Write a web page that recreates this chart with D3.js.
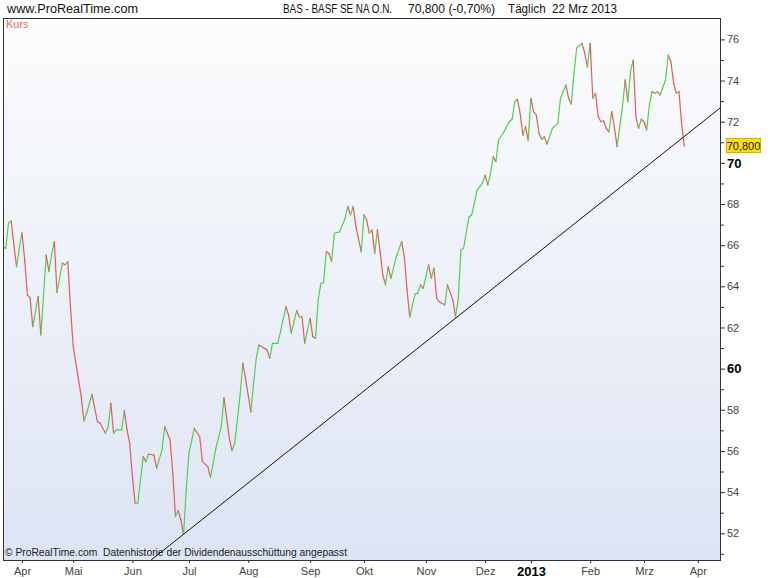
<!DOCTYPE html>
<html>
<head>
<meta charset="utf-8">
<script src="https://cdn.jsdelivr.net/npm/d3@7"></script>
<style>
  body { margin: 0; background: #fff; }
  svg { display: block; font-family: "Liberation Sans", Arial, sans-serif; }
  .axis path.domain { display: none; }
  .axis line { stroke: #333; }
  .axis text { fill: #444; font-size: 11px; }
</style>
</head>
<body>
<svg width="770" height="578"></svg>
<script>
// trading calendar (Xetra): first session and exchange holidays
var firstSession = "2012-03-22",
    lastCalendarDay = "2013-04-30";
var holidays = ["2012-04-06", "2012-04-09", "2012-05-01", "2012-12-24", "2012-12-25",
                "2012-12-26", "2012-12-31", "2013-01-01", "2013-03-29", "2013-04-01"];
var monthNames = ["Jan", "Feb", "Mrz", "Apr", "Mai", "Jun", "Jul", "Aug", "Sep", "Okt", "Nov", "Dez"];

// closing prices: session number (0 = 22 Mar 2012) and price
var session = [0, 1, 2, 3, 4, 5, 6, 7, 8, 9, 10, 11, 13, 14, 16, 17, 18, 19, 20, 22,
               23, 24, 25, 26, 28, 29, 30, 31, 33, 35, 36, 38, 39, 40, 41, 42, 44, 45, 46, 47,
               48, 49, 50, 52, 53, 54, 56, 57, 59, 60, 62, 63, 64, 65, 66, 67, 68, 69, 71, 73,
               74, 76, 77, 79, 81, 82, 84, 85, 86, 88, 89, 90, 92, 93, 94, 95, 97, 98, 99, 100,
               102, 103, 105, 106, 107, 109, 110, 111, 112, 114, 115, 116, 117, 118, 119, 120, 121, 122, 123, 125,
               127, 128, 129, 130, 131, 133, 134, 135, 136, 137, 138, 139, 140, 141, 142, 143, 144, 146, 148, 149,
               150, 151, 152, 153, 154, 155, 156, 158, 159, 160, 161, 162, 164, 165, 167, 168, 169, 170, 171, 173,
               174, 175, 176, 178, 179, 180, 181, 182, 183, 184, 186, 188, 189, 190, 191, 192, 193, 194, 195, 196,
               197, 198, 199, 200, 201, 202, 204, 206, 207, 209, 210, 211, 212, 213, 215, 216, 217, 218, 219, 220,
               221, 222, 223, 224, 225, 226, 227, 228, 230, 231, 232, 233, 234, 235, 236, 237, 238, 239, 240, 241,
               242, 243, 244, 246, 247, 248, 249, 250, 251, 252, 253];
var kurs = [65.90, 65.85, 67.08, 67.17, 66.00, 64.95, 65.86, 66.60, 65.28, 63.58, 63.45, 62.04, 63.50, 61.64, 65.52, 64.71, 65.56, 66.17, 63.70, 65.13,
            65.04, 65.20, 63.00, 61.10, 59.45, 58.64, 57.47, 57.83, 58.75, 57.42, 57.35, 56.86, 57.18, 58.32, 56.86, 57.02, 57.02, 57.96, 57.02, 56.37,
            54.75, 53.46, 53.46, 55.72, 55.48, 55.85, 55.80, 55.16, 56.05, 57.18, 56.53, 54.92, 52.81, 53.10, 52.65, 51.95, 54.10, 55.89, 57.10, 56.69,
            55.48, 55.24, 54.72, 56.13, 57.18, 58.59, 56.62, 56.01, 56.37, 58.72, 60.26, 59.53, 57.90, 59.29, 60.50, 61.15, 60.99, 60.91, 60.50, 61.23,
            61.23, 61.80, 63.01, 62.61, 61.72, 62.82, 62.52, 62.52, 61.23, 62.45, 61.55, 61.48, 63.34, 64.15, 64.18, 65.68, 65.60, 65.20, 66.58, 66.65,
            67.31, 67.87, 67.47, 67.87, 66.90, 65.68, 67.47, 67.22, 66.58, 66.74, 65.60, 66.74, 65.68, 64.55, 64.07, 64.95, 64.39, 65.44, 66.17, 65.44,
            63.82, 62.52, 63.09, 63.63, 63.66, 64.07, 63.90, 65.04, 64.39, 64.88, 63.42, 63.25, 63.09, 64.07, 63.34, 62.52, 63.34, 65.77, 65.85, 67.38,
            67.47, 68.03, 68.68, 69.01, 69.41, 68.92, 69.49, 70.30, 70.06, 71.11, 71.51, 72.00, 72.12, 72.97, 73.09, 72.41, 71.35, 71.76, 71.11, 73.14,
            72.49, 72.33, 71.44, 71.14, 71.27, 70.92, 71.68, 71.92, 73.14, 73.78, 73.14, 72.86, 74.35, 75.57, 75.81, 75.32, 74.64, 75.81, 73.14, 73.38,
            72.24, 72.00, 72.05, 71.68, 71.51, 72.49, 71.76, 70.79, 72.73, 74.03, 72.97, 74.43, 75.00, 72.24, 71.68, 72.12, 72.00, 71.60, 72.81, 73.46,
            73.38, 73.46, 73.30, 74.03, 75.24, 74.92, 73.87, 73.38, 73.46, 71.84, 70.80];

// support line through the July and November lows
var trendSession = [67, 168],
    trendKurs = [51.95, 62.45];

var priceTicks = d3.range(52, 77, 2),
    minorTicks = d3.range(51, 77, 2),
    strongTicks = [60, 70];

var title = "BAS - BASF SE NA O.N.",
    quote = "70,800 (-0,70%)",
    period = "Täglich  22 Mrz 2013",
    lastLabel = "70,800";

// ---- build the session calendar
var parse = d3.timeParse("%Y-%m-%d"), fmt = d3.timeFormat("%Y-%m-%d");
var holidaySet = new Set(holidays);
var sessions = d3.timeDay.range(parse(firstSession), parse(lastCalendarDay))
    .filter(function(d) { return d.getDay() != 0 && d.getDay() != 6 && !holidaySet.has(fmt(d)); });

var monthStarts = [];
sessions.forEach(function(d, i) {
    if (i > 0 && d.getMonth() != sessions[i - 1].getMonth()) monthStarts.push({ i: i, date: d });
});

var data = session.map(function(s, i) { return { s: s, v: kurs[i], date: sessions[s] }; });

var svg = d3.select("svg"),
    pLeft = 3, pRight = 721, pTop = 18, pBottom = 560;

var x = d3.scaleLinear().domain([0, 266.6]).range([3.15, pRight]);
var y = d3.scaleLinear().domain([50.70, 77.04]).range([pBottom, pTop]);

// background gradient
var defs = svg.append("defs");
var grad = defs.append("linearGradient").attr("id", "bg").attr("x1", 0).attr("y1", 0).attr("x2", 0).attr("y2", 1);
grad.append("stop").attr("offset", "0%").attr("stop-color", "#fbfcfd");
grad.append("stop").attr("offset", "35%").attr("stop-color", "#f1f4f9");
grad.append("stop").attr("offset", "100%").attr("stop-color", "#dde4f4");
defs.append("clipPath").attr("id", "plotClip")
  .append("rect").attr("x", pLeft).attr("y", pTop).attr("width", pRight - pLeft).attr("height", pBottom - pTop);

svg.append("rect")
    .attr("x", pLeft).attr("y", pTop)
    .attr("width", pRight - pLeft).attr("height", pBottom - pTop)
    .attr("fill", "url(#bg)");

// header
svg.append("text").attr("x", 7).attr("y", 13).attr("font-size", 12).attr("fill", "#111")
    .attr("textLength", 131).attr("lengthAdjust", "spacingAndGlyphs")
    .text("www.ProRealTime.com");
svg.append("text").attr("x", 283).attr("y", 13).attr("font-size", 12).attr("fill", "#111")
    .attr("textLength", 109).attr("lengthAdjust", "spacingAndGlyphs").text(title);
svg.append("text").attr("x", 408).attr("y", 13).attr("font-size", 12).attr("fill", "#111")
    .attr("textLength", 87).attr("lengthAdjust", "spacingAndGlyphs").text(quote);
svg.append("text").attr("x", 508).attr("y", 13).attr("font-size", 12).attr("fill", "#111")
    .attr("textLength", 109).attr("lengthAdjust", "spacingAndGlyphs").style("white-space", "pre").text(period);

// footer note inside plot
svg.append("text").attr("x", 5).attr("y", 556).attr("font-size", 11).attr("fill", "#222")
    .attr("textLength", 342).attr("lengthAdjust", "spacingAndGlyphs")
    .style("white-space", "pre")
    .text("© ProRealTime.com  Datenhistorie der Dividendenausschüttung angepasst");

svg.append("text").attr("x", 6).attr("y", 28).attr("font-size", 11).attr("fill", "#e07070").text("Kurs");

var plot = svg.append("g").attr("clip-path", "url(#plotClip)");

// price line: green when up, red when down
plot.selectAll(".seg")
    .data(d3.pairs(data))
  .enter().append("line")
    .attr("class", "seg")
    .attr("x1", function(d) { return x(d[0].s); })
    .attr("y1", function(d) { return y(d[0].v); })
    .attr("x2", function(d) { return x(d[1].s); })
    .attr("y2", function(d) { return y(d[1].v); })
    .attr("stroke", function(d) { return d[1].v >= d[0].v ? "#4fd04f" : "#e65a5a"; })
    .attr("stroke-width", 1.2)
    .attr("stroke-linecap", "round");

// trend line, extended across the plot
var slope = (trendKurs[1] - trendKurs[0]) / (trendSession[1] - trendSession[0]);
var tEnds = [0, 266.6];
plot.append("line")
    .attr("x1", x(tEnds[0])).attr("y1", y(trendKurs[0] + slope * (tEnds[0] - trendSession[0])))
    .attr("x2", x(tEnds[1])).attr("y2", y(trendKurs[0] + slope * (tEnds[1] - trendSession[0])))
    .attr("stroke", "#111").attr("stroke-width", 1);

// frame
svg.append("rect")
    .attr("x", pLeft + 0.5).attr("y", pTop + 0.5)
    .attr("width", pRight - pLeft - 1).attr("height", pBottom - pTop)
    .attr("fill", "none").attr("stroke", "#333");

// right axis
var yAxis = d3.axisRight(y).tickValues(priceTicks).tickSize(4).tickPadding(2)
    .tickFormat(function(d) { return d; });
var gy = svg.append("g").attr("class", "axis").attr("transform", "translate(" + pRight + ",0)").call(yAxis);
gy.selectAll(".tick text")
    .style("font-weight", function(d) { return strongTicks.indexOf(d) >= 0 ? "bold" : null; })
    .style("font-size", function(d) { return strongTicks.indexOf(d) >= 0 ? "13px" : null; })
    .style("fill", function(d) { return strongTicks.indexOf(d) >= 0 ? "#000" : null; });
svg.append("g").attr("class", "axis").attr("transform", "translate(" + pRight + ",0)")
    .call(d3.axisRight(y).tickValues(minorTicks).tickSize(3).tickFormat(""));

// last price marker
var last = data[data.length - 1];
var lab = svg.append("g").attr("transform", "translate(726," + Math.round(y(last.v)) + ")");
lab.append("rect").attr("x", 0.5).attr("y", -7.5).attr("width", 34).attr("height", 14)
    .attr("fill", "#ffe000").attr("stroke", "#d4b000");
lab.append("text").attr("x", 17.5).attr("y", 4).attr("text-anchor", "middle")
    .attr("font-size", 11).attr("fill", "#111").text(lastLabel);

// bottom axis, month ticks at the first session of each month
var xAxis = d3.axisBottom(x)
    .tickValues(monthStarts.map(function(m) { return m.i; }))
    .tickSize(3).tickPadding(4)
    .tickFormat(function(d) {
        var m = monthStarts.find(function(o) { return o.i == d; });
        return m.date.getMonth() == 0 ? m.date.getFullYear() : monthNames[m.date.getMonth()];
    });
var gx = svg.append("g").attr("class", "axis").attr("transform", "translate(0," + pBottom + ")").call(xAxis);
gx.selectAll(".tick text")
    .filter(function(d) { return monthStarts.find(function(o) { return o.i == d; }).date.getMonth() == 0; })
    .style("font-weight", "bold").style("font-size", "13px").style("fill", "#000");
</script>
</body>
</html>
